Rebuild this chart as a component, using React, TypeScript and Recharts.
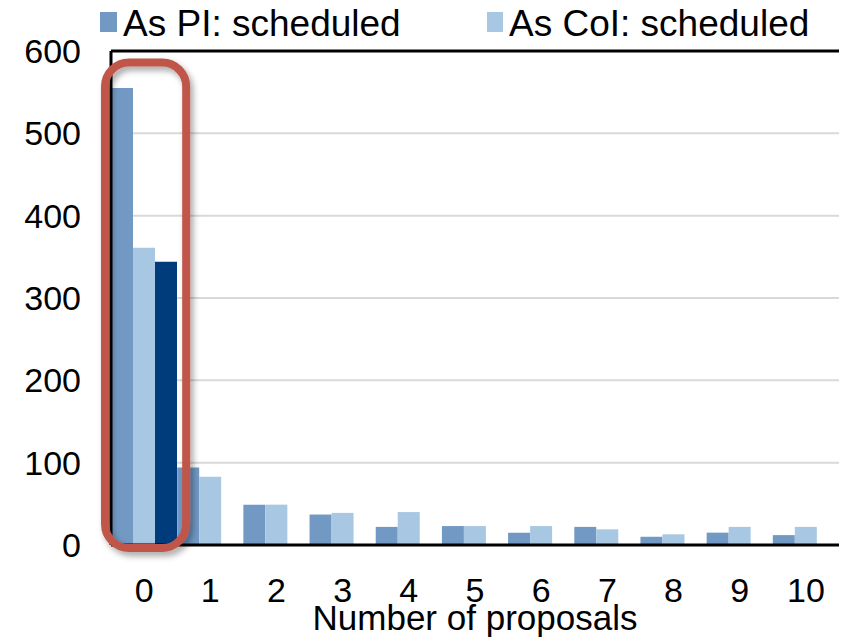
import { BarChart, Bar, XAxis, YAxis, CartesianGrid, ReferenceLine, ReferenceArea } from 'recharts';

const categories = ['0', '1', '2', '3', '4', '5', '6', '7', '8', '9', '10'];
const piScheduled = [555, 94, 49, 37, 22, 23, 15, 22, 10, 15, 12];
const coiScheduled = [361, 83, 49, 39, 40, 23, 23, 19, 13, 22, 22];
const highlight = [344, 0, 0, 0, 0, 0, 0, 0, 0, 0, 0];
const yTicks = [0, 100, 200, 300, 400, 500, 600];

const data = categories.map((c, i) => ({
  cat: c,
  pi: piScheduled[i],
  coi: coiScheduled[i],
  hl: highlight[i],
}));

const FONT = '"Liberation Sans", Arial, Helvetica, sans-serif';
const PI_COLOR = '#7199c4';
const COI_COLOR = '#a7c7e2';
const DARK_COLOR = '#003c7b';

function Highlight(props: any) {
  const { x, y, width, height } = props;
  return (
    <g>
      <defs>
        <filter id="hlShadow" x="-30%" y="-10%" width="160%" height="120%">
          <feDropShadow dx="3" dy="4" stdDeviation="3" floodColor="#000" floodOpacity="0.35" />
        </filter>
      </defs>
      <rect
        x={x - 6}
        y={y}
        width={width + 15}
        height={height + 3}
        rx={24}
        ry={24}
        fill="none"
        stroke="#c0574a"
        strokeWidth={8}
        filter="url(#hlShadow)"
      />
    </g>
  );
}

export default function App() {
  return (
    <div style={{ position: 'absolute', left: 0, top: 0, width: 841, height: 637, background: '#fff' }}>
      <BarChart
        width={841}
        height={637}
        data={data}
        margin={{ top: 51, right: 2, left: 0, bottom: 0 }}
        barCategoryGap={0}
        barGap={0}
      >
        <CartesianGrid vertical={false} stroke="#d9d9d9" strokeWidth={2} />
        <XAxis
          dataKey="cat"
          height={92}
          tickSize={0}
          tickMargin={33}
          tickLine={false}
          axisLine={{ stroke: '#000', strokeWidth: 3 }}
          tick={{ fontSize: 34, fill: '#000', fontFamily: FONT }}
          label={{ value: 'Number of proposals', position: 'insideBottom', offset: 7, fontSize: 35, fill: '#000', fontFamily: FONT }}
        />
        <YAxis
          width={111}
          domain={[0, 600]}
          ticks={yTicks}
          interval={0}
          tickSize={0}
          tickMargin={30}
          tickLine={false}
          axisLine={{ stroke: '#000', strokeWidth: 3 }}
          tick={{ fontSize: 34, fill: '#000', fontFamily: FONT }}
        />
        <ReferenceLine y={600} stroke="#000" strokeWidth={3} />
        <Bar dataKey="pi" name="As PI: scheduled" fill={PI_COLOR} isAnimationActive={false} />
        <Bar dataKey="coi" name="As CoI: scheduled" fill={COI_COLOR} isAnimationActive={false} />
        <Bar dataKey="hl" name="Highlighted" fill={DARK_COLOR} isAnimationActive={false} />
        <ReferenceArea x1="0" x2="0" y1={0} y2={586} ifOverflow="visible" shape={Highlight} zIndex={2000} />
      </BarChart>
      <div style={{ position: 'absolute', left: 0, top: 0, width: 841, height: 46, fontFamily: FONT, fontSize: 37, color: '#000' }}>
        <div style={{ position: 'absolute', left: 100, top: 12, width: 17, height: 20, background: PI_COLOR }} />
        <div style={{ position: 'absolute', left: 123, top: 4, lineHeight: '40px', whiteSpace: 'nowrap' }}>As PI: scheduled</div>
        <div style={{ position: 'absolute', left: 487, top: 12, width: 16, height: 20, background: COI_COLOR }} />
        <div style={{ position: 'absolute', left: 509, top: 4, lineHeight: '40px', whiteSpace: 'nowrap' }}>As CoI: scheduled</div>
      </div>
    </div>
  );
}
